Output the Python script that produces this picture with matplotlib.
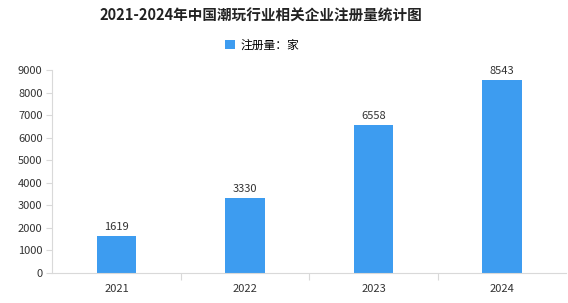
import numpy as np
import matplotlib
matplotlib.use("Agg")
import matplotlib.pyplot as plt

plt.rcParams['font.family'] = ['Noto Sans CJK SC', 'DejaVu Sans']

# data
years = ['2021', '2022', '2023', '2024']
counts = [1619, 3330, 6558, 8543]
yticks = np.arange(0, 9001, 1000)

bar_color = '#3d9cf0'
axis_color = '#d9d9d9'

fig = plt.figure(figsize=(5.68, 3.03), dpi=100)
ax = fig.add_axes([0.092, 0.099, 0.905, 0.670])

x = np.arange(len(years))
bars = ax.bar(x, counts, width=0.31, color=bar_color, label='注册量：家', zorder=2)

for xi, v in zip(x, counts):
    ax.text(xi, v + 180, str(v), ha='center', va='bottom', fontsize=8, color='#333333')

ax.set_xlim(-0.5, len(years) - 0.5)
ax.set_ylim(0, 9000)
ax.set_yticks(yticks)
ax.set_yticklabels([str(t) for t in yticks], fontsize=8, color='#333333')
ax.set_xticks(x)
ax.set_xticklabels(years, fontsize=8, color='#333333')
ax.tick_params(axis='x', length=0, pad=8)
ax.tick_params(axis='y', length=4, color=axis_color, width=0.8, pad=3)

# separator ticks between categories
ax.set_xticks(np.arange(0.5, len(years) - 1), minor=True)
ax.tick_params(axis='x', which='minor', length=5, color=axis_color, width=0.8)

for side in ['top', 'right']:
    ax.spines[side].set_visible(False)
for side in ['left', 'bottom']:
    ax.spines[side].set_color(axis_color)
    ax.spines[side].set_linewidth(0.8)

fig.text(0.46, 0.948, '2021-2024年中国潮玩行业相关企业注册量统计图', ha='center', va='center',
         fontsize=10.5, fontweight='bold', color='#222222')
fig.legend(handles=[bars], loc='center', bbox_to_anchor=(0.462, 0.852), frameon=False,
           fontsize=8.5, handlelength=0.8, handleheight=0.8, handletextpad=0.5)

fig.savefig('out.png', dpi=100)
